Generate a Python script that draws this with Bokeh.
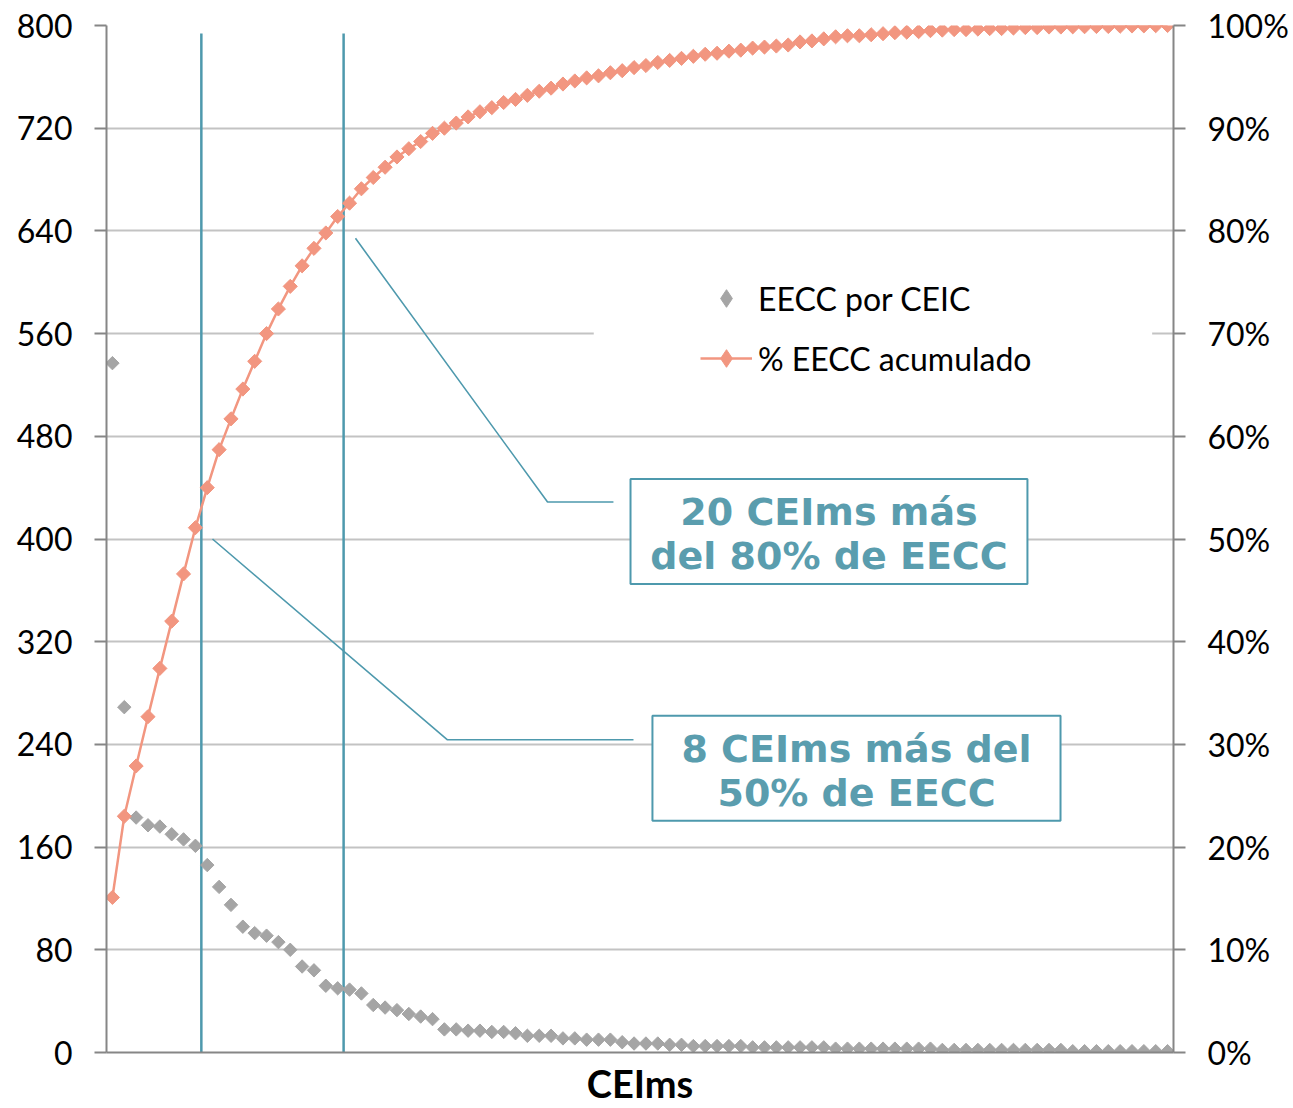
import numpy as np
from bokeh.plotting import figure
from bokeh.models import (Range1d, LinearAxis, FixedTicker, PrintfTickFormatter, Label,
                          BoxAnnotation, Legend, LegendItem)
from bokeh.embed import file_html
from bokeh.resources import INLINE

# ---------------- data ----------------
ceims = list(range(1, 91))

eecc_por_ceic = [537, 269, 183, 177, 176, 170, 166, 161, 146, 129,
                 115, 98, 93, 91, 86, 80, 67, 64, 52, 50,
                 49, 46, 37, 35, 33, 30, 28, 26, 18, 18,
                 17, 17, 16, 16, 15, 13, 13, 13, 11, 11,
                 10, 10, 10, 8, 7, 7, 7, 6, 6, 5,
                 5, 5, 5, 5, 4, 4, 4, 4, 4, 4,
                 4, 3, 3, 3, 3, 3, 3, 3, 3, 3,
                 2, 2, 2, 2, 2, 2, 2, 2, 2, 2,
                 2, 1, 1, 1, 1, 1, 1, 1, 1, 1]

pct_acumulado = [15.1, 23.0, 27.9, 32.7, 37.4, 42.0, 46.6, 51.1, 55.0, 58.7,
                 61.7, 64.6, 67.3, 70.0, 72.4, 74.6, 76.6, 78.3, 79.8, 81.4,
                 82.7, 84.1, 85.2, 86.2, 87.2, 88.0, 88.7, 89.5, 90.0, 90.5,
                 91.1, 91.6, 92.0, 92.5, 92.8, 93.2, 93.6, 93.9, 94.3, 94.6,
                 94.9, 95.1, 95.4, 95.6, 95.9, 96.1, 96.4, 96.6, 96.8, 97.0,
                 97.2, 97.3, 97.5, 97.6, 97.8, 97.9, 98.0, 98.1, 98.4, 98.5,
                 98.7, 98.9, 99.0, 99.0, 99.1, 99.2, 99.3, 99.35, 99.4, 99.5,
                 99.55, 99.6, 99.6, 99.65, 99.7, 99.7, 99.75, 99.8, 99.8, 99.85,
                 99.85, 99.87, 99.88, 99.9, 99.9, 99.93, 99.95, 99.96, 99.98, 100.0]

left_ticks = [0, 80, 160, 240, 320, 400, 480, 560, 640, 720, 800]
pct_ticks = [0, 10, 20, 30, 40, 50, 60, 70, 80, 90, 100]

serie_1 = "EECC por CEIC"
serie_2 = "% EECC acumulado"
titulo_x = "CEIms"
limite_50 = 8
limite_80 = 20
texto_80 = "20 CEIms más\ndel 80% de EECC"
texto_50 = "8 CEIms más del\n50% de EECC"

# ---------------- styles ----------------
GRAY = "#A5A5A5"
ORANGE = "#F29680"
TEAL = "#4E99AD"
TEXT_TEAL = "#5A9DAE"
AXIS = "#868686"
GRID = "#C3C3C3"
FONT = "Lato"

x = [c - 0.5 for c in ceims]

p = figure(width=1293, height=1108, title=None,
           x_range=Range1d(0, len(ceims)), y_range=Range1d(0, 800),
           output_backend="svg", toolbar_location=None,
           min_border_left=106, min_border_right=120, min_border_top=25, min_border_bottom=55)
p.extra_y_ranges = {"pct": Range1d(0, 100)}
p.outline_line_color = None
p.background_fill_color = "white"

# grids
p.xgrid.visible = False
p.ygrid.grid_line_color = GRID
p.ygrid.grid_line_width = 2
p.ygrid.ticker = FixedTicker(ticks=left_ticks)

# bottom axis: line and title only
p.xaxis.ticker = FixedTicker(ticks=[])
p.xaxis.major_tick_out = 0
p.xaxis.major_tick_in = 0
p.xaxis.major_tick_line_color = None
p.xaxis.minor_tick_line_color = None
p.xaxis.axis_line_color = AXIS
p.xaxis.axis_line_width = 2
p.xaxis.axis_label = titulo_x
p.xaxis.axis_label_standoff = 7
p.xaxis.axis_label_text_font = FONT
p.xaxis.axis_label_text_font_style = "bold"
p.xaxis.axis_label_text_font_size = "38px"
p.xaxis.axis_label_text_color = "black"

# left axis
p.yaxis.ticker = FixedTicker(ticks=left_ticks)
p.yaxis.axis_line_color = AXIS
p.yaxis.axis_line_width = 2
p.yaxis.major_tick_line_color = AXIS
p.yaxis.major_tick_line_width = 2
p.yaxis.major_tick_out = 12
p.yaxis.major_tick_in = 0
p.yaxis.minor_tick_line_color = None
p.yaxis.major_label_standoff = 22
p.yaxis.major_label_text_font = FONT
p.yaxis.major_label_text_font_size = "32px"
p.yaxis.major_label_text_color = "black"

# right axis
ax_r = LinearAxis(y_range_name="pct", ticker=FixedTicker(ticks=pct_ticks),
                  formatter=PrintfTickFormatter(format="%d%%"))
ax_r.axis_line_color = AXIS
ax_r.axis_line_width = 2
ax_r.major_tick_line_color = AXIS
ax_r.major_tick_line_width = 2
ax_r.major_tick_out = 12
ax_r.major_tick_in = 0
ax_r.minor_tick_line_color = None
ax_r.major_label_standoff = 22
ax_r.major_label_text_font = FONT
ax_r.major_label_text_font_size = "32px"
ax_r.major_label_text_color = "black"
p.add_layout(ax_r, "right")

# white legend background (hides the gridline behind the legend)
p.add_layout(BoxAnnotation(left=41.1, right=88.2, bottom=516, top=609,
                           fill_color="white", fill_alpha=1, line_color=None, level="underlay"))

# vertical marker lines
p.segment(x0=[limite_50, limite_80], y0=[0, 0], x1=[limite_50, limite_80], y1=[793.8, 793.8],
          line_color=TEAL, line_width=2.5)

# series
r_gray = p.scatter(x, eecc_por_ceic, marker="square", angle=np.pi / 4, size=9.5,
                   fill_color=GRAY, line_color=GRAY)
r_line = p.line(x, pct_acumulado, y_range_name="pct", line_color=ORANGE, line_width=2.5)
r_osc = p.scatter(x, pct_acumulado, y_range_name="pct", marker="square", angle=np.pi / 4,
                  size=10, fill_color=ORANGE, line_color=ORANGE)

# legend swatches: diamond markers on the first point of each series (hidden under it)
lg_gray = p.scatter(x[:1], eecc_por_ceic[:1], marker="diamond", size=1,
                    fill_color=GRAY, line_color=GRAY)
lg_osc = p.scatter(x[:1], pct_acumulado[:1], y_range_name="pct", marker="diamond", size=1,
                   fill_color=ORANGE, line_color=ORANGE)

# leader lines
p.line([21.0, 37.2, 42.76], [634.2, 428.8, 428.8], line_color=TEAL, line_width=1.6)
p.line([8.94, 28.76, 44.45], [400.0, 243.6, 243.6], line_color=TEAL, line_width=1.6)

# text boxes
p.add_layout(BoxAnnotation(left=44.2, right=77.68, bottom=365.0, top=446.7,
                           fill_color="white", fill_alpha=1, line_color=TEAL, line_alpha=1,
                           line_width=2))
p.add_layout(BoxAnnotation(left=46.05, right=80.47, bottom=180.5, top=262.3,
                           fill_color="white", fill_alpha=1, line_color=TEAL, line_alpha=1,
                           line_width=2))
p.add_layout(Label(x=60.94, y=404.0, text=texto_80, text_align="center", text_baseline="middle",
                   text_font="DejaVu Sans", text_font_style="bold", text_font_size="38px",
                   text_color=TEXT_TEAL, text_line_height=1.0))
p.add_layout(Label(x=63.26, y=219.1, text=texto_50, text_align="center", text_baseline="middle",
                   text_font="DejaVu Sans", text_font_style="bold", text_font_size="38px",
                   text_color=TEXT_TEAL, text_line_height=1.0))

# legend
legend = Legend(items=[LegendItem(label=serie_1, renderers=[lg_gray]),
                       LegendItem(label=serie_2, renderers=[r_line, lg_osc])],
                location=(594, 672), orientation="vertical",
                background_fill_alpha=0, border_line_color=None,
                padding=0, margin=0, spacing=16,
                glyph_width=52, glyph_height=44, label_height=30, label_standoff=6,
                label_text_font=FONT, label_text_font_size="32px", label_text_color="black")
p.add_layout(legend)

open("out.html", "w").write(file_html(p, INLINE))
